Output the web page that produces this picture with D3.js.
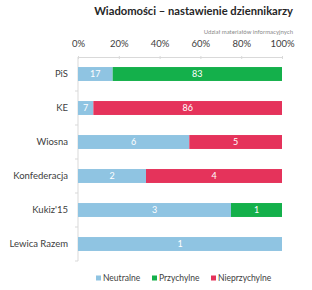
<!DOCTYPE html>
<html>
<head>
<meta charset="utf-8">
<script src="https://cdn.jsdelivr.net/npm/d3@7"></script>
<style>
  body { margin: 0; background: #fff; }
  svg { font-family: Lato, "Open Sans", sans-serif; }
</style>
</head>
<body>
<svg id="chart" width="312" height="290"></svg>
<script>
let parties = ["PiS", "KE", "Wiosna", "Konfederacja", "Kukiz'15", "Lewica Razem"];
let neutralne = [17, 7, 6, 2, 3, 1];
let przychylne = [83, 0, 0, 0, 1, 0];
let nieprzychylne = [0, 86, 5, 4, 0, 0];
let seriesNames = ["Neutralne", "Przychylne", "Nieprzychylne"];
let tickValues = [0, 0.2, 0.4, 0.6, 0.8, 1];

let colors = ["#8fc4e2", "#14b04b", "#e5335b"];
let svg = d3.select("#chart");

let rows = parties.map((p, i) => ({
  party: p,
  Neutralne: neutralne[i],
  Przychylne: przychylne[i],
  Nieprzychylne: nieprzychylne[i]
}));

let stacked = d3.stack()
  .keys(seriesNames)
  .offset(d3.stackOffsetExpand)(rows);

let x = d3.scaleLinear().domain([0, 1]).range([78, 282]);
let y = d3.scaleBand().domain(parties).range([57, 261]).paddingInner(0.59).paddingOuter(0.295);
let color = d3.scaleOrdinal().domain(seriesNames).range(colors);

// title
svg.append("text")
   .attr("x", 293).attr("y", 15)
   .attr("text-anchor", "end")
   .style("font-size", "11.2px").style("font-weight", "bold").style("fill", "#262626")
   .text("Wiadomości – nastawienie dziennikarzy");

svg.append("text")
   .attr("x", 293).attr("y", 34)
   .attr("text-anchor", "end")
   .style("font-size", "6px").style("fill", "#8a8a8a")
   .text("Udział materiałów informacyjnych");

// top axis
let xAxis = d3.axisTop(x)
  .tickValues(tickValues)
  .tickFormat(d3.format(".0%"))
  .tickSize(3).tickSizeOuter(0);

let gx = svg.append("g").attr("transform", "translate(0,57)").call(xAxis);
gx.select(".domain").attr("stroke", "#d9d9d9");
gx.selectAll(".tick line").attr("stroke", "#d9d9d9").attr("y2", 2).attr("y1", -1);
gx.selectAll(".tick text").attr("y", -10).style("font-size", "9.5px").style("fill", "#404040")
  .style("font-family", "Lato, sans-serif");

// left axis line with ticks between categories
svg.append("line")
   .attr("x1", 78).attr("x2", 78).attr("y1", 57).attr("y2", 261)
   .attr("stroke", "#d9d9d9");
svg.selectAll(".sep")
   .data(parties.slice(1).concat(["end"]))
   .enter().append("line")
   .attr("x1", 75).attr("x2", 78)
   .attr("y1", (d, i) => 57 + (i + 1) * y.step())
   .attr("y2", (d, i) => 57 + (i + 1) * y.step())
   .attr("stroke", "#d9d9d9");

// category labels
svg.selectAll(".cat")
   .data(parties)
   .enter().append("text")
   .attr("x", 68)
   .attr("y", d => y(d) + y.bandwidth() / 2)
   .attr("dy", "0.35em")
   .attr("text-anchor", "end")
   .style("font-size", "9.5px").style("fill", "#404040")
   .text(d => d);

// bars
let layers = svg.selectAll(".layer")
  .data(stacked)
  .enter().append("g")
  .attr("fill", d => color(d.key));

layers.selectAll("rect")
  .data(d => d.filter(s => s[1] - s[0] > 0))
  .enter().append("rect")
  .attr("x", d => x(d[0]))
  .attr("y", d => y(d.data.party))
  .attr("width", d => x(d[1]) - x(d[0]))
  .attr("height", y.bandwidth());

layers.each(function(layer) {
  d3.select(this).selectAll(".val")
    .data(layer.filter(s => s[1] - s[0] > 0))
    .enter().append("text")
    .attr("x", d => (x(d[0]) + x(d[1])) / 2)
    .attr("y", d => y(d.data.party) + y.bandwidth() / 2)
    .attr("dy", "0.35em")
    .attr("text-anchor", "middle")
    .style("font-size", "9px").style("fill", "#fff")
    .text(d => d.data[layer.key]);
});

// legend
let legendX = [96, 152, 211];
let legend = svg.selectAll(".leg")
  .data(seriesNames)
  .enter().append("g")
  .attr("transform", (d, i) => `translate(${legendX[i]},278)`);
legend.append("rect")
  .attr("x", 0).attr("y", -2.5).attr("width", 5).attr("height", 5)
  .attr("fill", d => color(d));
legend.append("text")
  .attr("x", 7).attr("y", 0).attr("dy", "0.35em")
  .style("font-size", "8.5px").style("fill", "#404040")
  .text(d => d);
</script>
</body>
</html>
